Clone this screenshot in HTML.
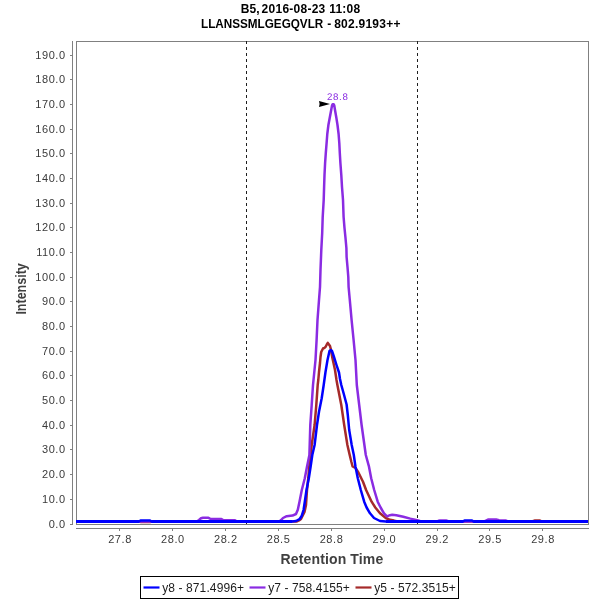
<!DOCTYPE html>
<html lang="en"><head><meta charset="utf-8"><title>B5 chromatogram</title>
<style>html,body{margin:0;padding:0;background:#fff;overflow:hidden}svg{display:block}text{font-family:"Liberation Sans",Arial,Helvetica,sans-serif}</style>
</head><body>
<svg width="600" height="600" viewBox="0 0 600 600">
<rect x="0" y="0" width="600" height="600" fill="#ffffff"/>
<g font-weight="bold" font-size="12px" fill="#000" text-anchor="start">
<text x="240.8" y="13.2">B5,</text>
<text x="261.6" y="13.2" textLength="98.6" lengthAdjust="spacing">2016-08-23 11:08</text>
<text x="201" y="28" textLength="122.3" lengthAdjust="spacingAndGlyphs">LLANSSMLGEGQVLR</text>
<text x="327.2" y="28">-</text>
<text x="334.2" y="28" textLength="66.2" lengthAdjust="spacing">802.9193++</text>
</g>
<g shape-rendering="crispEdges" stroke="#808080" stroke-width="1" fill="none">
<rect x="76.5" y="41.5" width="512" height="483"/>
<line x1="72.5" y1="41" x2="72.5" y2="525"/>
<line x1="76" y1="528.5" x2="589" y2="528.5"/>
<line x1="70" y1="524.5" x2="72" y2="524.5"/>
<line x1="70" y1="499.5" x2="72" y2="499.5"/>
<line x1="70" y1="474.5" x2="72" y2="474.5"/>
<line x1="70" y1="449.5" x2="72" y2="449.5"/>
<line x1="70" y1="425.5" x2="72" y2="425.5"/>
<line x1="70" y1="400.5" x2="72" y2="400.5"/>
<line x1="70" y1="375.5" x2="72" y2="375.5"/>
<line x1="70" y1="351.5" x2="72" y2="351.5"/>
<line x1="70" y1="326.5" x2="72" y2="326.5"/>
<line x1="70" y1="301.5" x2="72" y2="301.5"/>
<line x1="70" y1="277.5" x2="72" y2="277.5"/>
<line x1="70" y1="252.5" x2="72" y2="252.5"/>
<line x1="70" y1="227.5" x2="72" y2="227.5"/>
<line x1="70" y1="203.5" x2="72" y2="203.5"/>
<line x1="70" y1="178.5" x2="72" y2="178.5"/>
<line x1="70" y1="153.5" x2="72" y2="153.5"/>
<line x1="70" y1="129.5" x2="72" y2="129.5"/>
<line x1="70" y1="104.5" x2="72" y2="104.5"/>
<line x1="70" y1="79.5" x2="72" y2="79.5"/>
<line x1="70" y1="55.5" x2="72" y2="55.5"/>
<line x1="119.5" y1="529" x2="119.5" y2="531"/>
<line x1="172.5" y1="529" x2="172.5" y2="531"/>
<line x1="225.5" y1="529" x2="225.5" y2="531"/>
<line x1="278.5" y1="529" x2="278.5" y2="531"/>
<line x1="331.5" y1="529" x2="331.5" y2="531"/>
<line x1="384.5" y1="529" x2="384.5" y2="531"/>
<line x1="437.5" y1="529" x2="437.5" y2="531"/>
<line x1="489.5" y1="529" x2="489.5" y2="531"/>
<line x1="542.5" y1="529" x2="542.5" y2="531"/>
</g>
<g font-size="11px" fill="#3a3a3a" text-anchor="end" letter-spacing="0.55">
<text x="65.6" y="528.0">0.0</text>
<text x="65.6" y="503.0">10.0</text>
<text x="65.6" y="478.0">20.0</text>
<text x="65.6" y="453.0">30.0</text>
<text x="65.6" y="429.0">40.0</text>
<text x="65.6" y="404.0">50.0</text>
<text x="65.6" y="379.0">60.0</text>
<text x="65.6" y="355.0">70.0</text>
<text x="65.6" y="330.0">80.0</text>
<text x="65.6" y="305.0">90.0</text>
<text x="65.6" y="281.0">100.0</text>
<text x="65.6" y="256.0">110.0</text>
<text x="65.6" y="231.0">120.0</text>
<text x="65.6" y="207.0">130.0</text>
<text x="65.6" y="182.0">140.0</text>
<text x="65.6" y="157.0">150.0</text>
<text x="65.6" y="133.0">160.0</text>
<text x="65.6" y="108.0">170.0</text>
<text x="65.6" y="83.0">180.0</text>
<text x="65.6" y="59.0">190.0</text>
</g>
<g font-size="11px" fill="#3a3a3a" text-anchor="middle" letter-spacing="0.55">
<text x="120.0" y="543">27.8</text>
<text x="172.9" y="543">28.0</text>
<text x="225.8" y="543">28.2</text>
<text x="278.6" y="543">28.5</text>
<text x="331.5" y="543">28.8</text>
<text x="384.4" y="543">29.0</text>
<text x="437.2" y="543">29.2</text>
<text x="490.1" y="543">29.5</text>
<text x="543.0" y="543">29.8</text>
</g>
<g font-weight="bold" font-size="14px" fill="#404040">
<text x="280.6" y="563.7" textLength="102.6" lengthAdjust="spacing">Retention Time</text>
<text transform="translate(26,314.6) rotate(-90)" x="0" y="0" textLength="51.4" lengthAdjust="spacingAndGlyphs">Intensity</text>
</g>
<g stroke="#1e1e1e" stroke-width="1" stroke-dasharray="3,3" shape-rendering="crispEdges">
<line x1="246.5" y1="41" x2="246.5" y2="524"/>
<line x1="417.5" y1="41" x2="417.5" y2="524"/>
</g>
<g fill="none" stroke-linejoin="round" stroke-linecap="butt">
<polyline stroke="#a52a2a" stroke-width="2.5" points="76.0,521.5 139.0,521.5 141.0,522.0 150.0,522.0 152.0,521.5 297.0,521.5 299.0,520.5 301.0,519.0 304.5,512.0 306.0,505.0 307.0,490.0 308.3,478.0 309.4,465.0 311.7,445.0 314.6,425.0 316.3,405.0 317.7,385.0 318.3,380.0 319.0,372.0 320.0,363.0 320.5,357.0 321.2,352.0 323.0,348.5 324.5,347.8 325.5,347.0 326.8,344.5 327.8,342.9 330.0,346.0 330.8,349.0 332.4,358.0 333.5,363.0 335.0,370.0 336.5,380.0 337.4,385.0 341.3,405.0 344.2,425.0 347.4,445.0 349.7,455.0 351.4,462.0 352.6,466.5 355.5,468.0 358.4,472.5 363.0,481.8 366.1,490.0 371.6,501.7 375.3,507.5 380.0,513.3 385.8,518.0 390.0,519.8 394.0,520.6 398.0,521.5 532.0,521.5 533.5,520.9 535.0,520.5 540.0,520.5 542.0,521.5 588.0,521.5"/>
<polyline stroke="#8a2be2" stroke-width="2.5" points="76.0,521.5 197.0,521.5 199.0,520.0 201.0,518.3 203.0,517.7 208.0,517.7 210.0,518.7 221.0,519.0 223.0,519.9 235.0,520.2 237.0,521.5 279.0,521.5 280.8,520.3 283.0,518.0 286.7,516.2 292.5,515.6 296.0,514.0 297.8,509.8 299.5,501.7 301.8,490.0 304.8,478.3 307.0,466.7 309.4,455.0 310.3,425.0 311.7,405.0 313.0,385.0 315.5,360.0 316.6,340.0 317.5,320.0 319.0,300.0 320.0,287.0 320.5,270.0 321.3,250.0 322.2,233.0 322.7,217.0 323.7,200.0 324.1,187.0 324.5,175.0 325.1,163.0 325.8,153.0 326.6,143.0 327.3,134.0 328.4,125.0 329.7,118.0 331.2,110.0 332.0,105.6 332.6,104.3 333.7,104.3 334.3,105.6 335.0,110.0 336.4,118.0 337.5,125.0 338.6,134.0 339.3,143.0 339.8,153.0 340.4,163.0 341.3,175.0 342.0,187.0 343.0,200.0 343.6,217.0 344.5,228.0 345.5,238.0 346.4,248.0 346.6,257.0 347.5,267.0 348.3,277.0 348.6,287.0 349.8,300.0 351.6,320.0 353.6,340.0 355.5,360.0 356.8,385.0 359.2,405.0 361.6,425.0 364.4,445.0 365.8,455.0 369.0,466.7 371.2,478.3 374.2,490.0 377.7,501.7 380.6,507.5 384.0,513.3 387.0,516.3 390.0,515.2 392.2,514.8 396.3,515.2 403.3,516.8 410.3,518.6 415.0,519.6 420.0,521.0 424.0,521.5 437.0,521.5 438.5,520.8 440.0,520.5 446.0,520.5 449.0,521.5 484.0,521.5 485.5,520.8 488.0,519.6 496.0,519.4 499.0,520.3 506.0,520.6 508.0,521.5 588.0,521.5"/>
<polyline stroke="#0000ff" stroke-width="2.5" points="76.0,521.5 139.0,521.5 140.5,520.5 150.0,520.5 151.5,521.5 292.0,521.5 296.0,521.0 299.5,519.2 301.8,515.7 303.6,509.8 304.8,501.7 306.5,490.0 308.8,478.3 310.6,466.7 312.3,455.0 314.6,445.0 317.0,425.0 319.0,411.7 321.7,398.3 323.7,385.0 325.5,372.0 327.5,360.0 329.5,351.0 330.8,350.0 332.0,351.0 334.0,357.0 336.5,365.0 339.0,372.5 340.0,379.0 341.3,385.0 343.8,394.0 346.6,404.5 347.8,415.0 349.2,430.0 351.7,445.0 353.8,455.0 355.5,466.7 357.8,478.3 360.8,490.0 364.2,501.7 366.6,507.5 370.0,513.3 374.0,518.0 380.0,521.0 385.8,521.6 463.0,521.5 464.5,520.5 472.0,520.5 473.5,521.5 588.0,521.5"/>
<path stroke="#0000ff" stroke-width="3" d="M76,521.5H139M151.5,521.5H292M386,521.5H463M473.5,521.5H588"/>
</g>
<polygon points="319,101 330,104 319,107 319.6,104" fill="#000"/>
<text x="327" y="100" font-size="9.7px" text-rendering="geometricPrecision" fill="#8a2be2" letter-spacing="0.65">28.8</text>
<rect x="140.5" y="576.5" width="318" height="22" fill="#fff" stroke="#000" stroke-width="1" shape-rendering="crispEdges"/>
<g stroke-width="2.2" fill="none">
<line x1="143.5" y1="587.5" x2="159.5" y2="587.5" stroke="#0000ff"/>
<line x1="249.5" y1="587.5" x2="265.5" y2="587.5" stroke="#8a2be2"/>
<line x1="355.5" y1="587.5" x2="371.5" y2="587.5" stroke="#a52a2a"/>
</g>
<g font-size="12px" fill="#1c1c1c">
<text x="162.2" y="591.7" textLength="81.8" lengthAdjust="spacing">y8 - 871.4996+</text>
<text x="268.3" y="591.7" textLength="81.5" lengthAdjust="spacing">y7 - 758.4155+</text>
<text x="374.3" y="591.7" textLength="81.4" lengthAdjust="spacing">y5 - 572.3515+</text>
</g>
</svg>
</body></html>
